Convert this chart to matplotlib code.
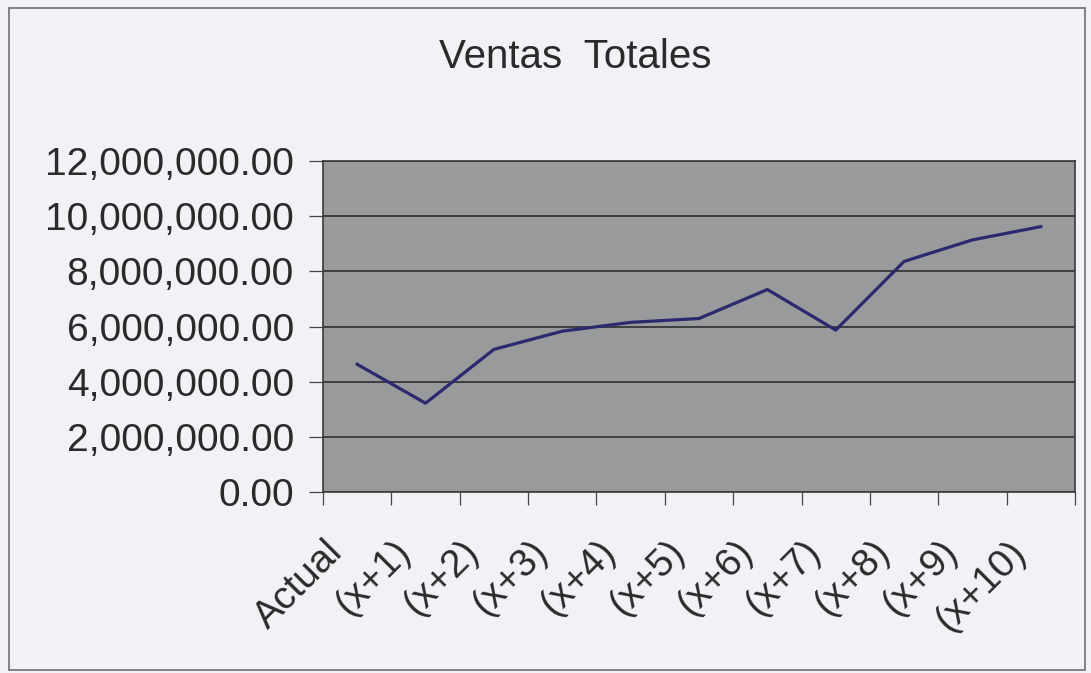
import matplotlib

matplotlib.use("Agg")
import matplotlib.pyplot as plt
from matplotlib.patches import Rectangle
from matplotlib.ticker import FuncFormatter, FixedLocator
from matplotlib.transforms import ScaledTranslation

categories = ["Actual", "(x+1)", "(x+2)", "(x+3)", "(x+4)", "(x+5)",
              "(x+6)", "(x+7)", "(x+8)", "(x+9)", "(x+10)"]
ventas = [4630000, 3220000, 5170000, 5830000, 6150000, 6290000,
          7340000, 5870000, 8360000, 9140000, 9620000]
y_ticks = [0, 2000000, 4000000, 6000000, 8000000, 10000000, 12000000]

plt.rcParams["font.family"] = ["Liberation Sans", "DejaVu Sans"]

fig = plt.figure(figsize=(10.91, 6.73), dpi=100)
fig.patch.set_facecolor("#f1f2f6")

# outer chart border
fig.patches.append(Rectangle((9 / 1091, 3 / 673), 1076 / 1091, 662 / 673,
                             transform=fig.transFigure, fill=False,
                             edgecolor="#6e6e70", linewidth=1.2))

# plot area: x 323..1075, y 161..492 (pixels)
ax = fig.add_axes([323 / 1091, 1 - 492 / 673, 752 / 1091, 331 / 673])
ax.set_facecolor("#999a9c")

x = list(range(len(categories)))
ax.plot(x, ventas, color="#2b2a6e", linewidth=2.3)

ax.set_xlim(-0.5, len(categories) - 0.5)
ax.set_ylim(0, 12000000)
ax.set_yticks(y_ticks)
ax.yaxis.set_major_formatter(FuncFormatter(lambda v, p: f"{v:,.2f}"))
ax.grid(axis="y", color="#2e2e30", linewidth=1.2)
ax.set_axisbelow(True)

ax.set_xticks(x)
ax.set_xticklabels(categories, rotation=45, ha="right", va="top",
                   rotation_mode="anchor")
ax.xaxis.set_minor_locator(FixedLocator([i - 0.5 for i in range(len(categories) + 1)]))
ax.tick_params(axis="x", which="major", length=0, pad=30, labelsize=28,
               labelcolor="#2a2a2a")
ax.tick_params(axis="x", which="minor", length=9, width=0.9, color="#444444")
ax.tick_params(axis="y", length=10, width=0.9, color="#444444", pad=11,
               labelsize=28, labelcolor="#2a2a2a")

# shift rotated labels left of category centres
shift = ScaledTranslation(-33 / 100, 0, fig.dpi_scale_trans)
for lab in ax.get_xticklabels():
    lab.set_transform(lab.get_transform() + shift)

for side in ["left", "bottom", "top", "right"]:
    ax.spines[side].set_color("#3a3a3a")
    ax.spines[side].set_linewidth(1.2)

fig.text(575 / 1091, 1 - 57 / 673, "Ventas  Totales", ha="center", va="center",
         fontsize=29, color="#2a2a2a")

fig.savefig("out.png", dpi=100, facecolor=fig.get_facecolor())
